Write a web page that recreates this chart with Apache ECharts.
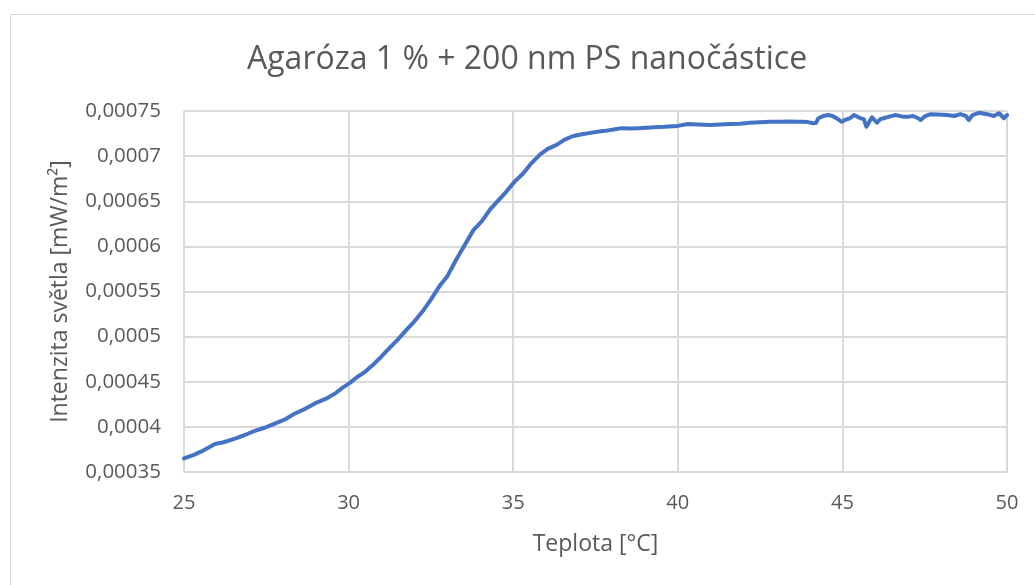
<!DOCTYPE html>
<html>
<head>
<meta charset="utf-8">
<script src="https://cdn.jsdelivr.net/npm/echarts@6/dist/echarts.min.js"></script>
<style>
  html, body { margin: 0; padding: 0; background: #ffffff; }
  #chart { width: 1035px; height: 585px; }
</style>
</head>
<body>
<div id="chart"></div>
<script>
// Measured light intensity vs. temperature (agarose 1 % + 200 nm PS nanoparticles)
var temperature = [
  25.0, 25.3, 25.6, 25.94, 26.2, 26.55, 26.85, 27.15, 27.45, 27.76,
  28.05, 28.37, 28.68, 28.98, 29.3, 29.59, 29.8, 30.05, 30.25, 30.5,
  30.75, 31.0, 31.26, 31.5, 31.77, 32.0, 32.27, 32.5, 32.78, 33.0,
  33.28, 33.55, 33.79, 34.05, 34.3, 34.55, 34.8, 35.05, 35.31, 35.55,
  35.82, 36.05, 36.32, 36.55, 36.8, 37.05, 37.3, 37.55, 37.8, 38.05,
  38.3, 38.55, 38.8, 39.05, 39.3, 39.6, 40.0, 40.3, 40.6, 40.97,
  41.3, 41.58, 41.9, 42.19, 42.5, 42.8, 43.1, 43.4, 43.65, 43.81,
  43.95, 44.11, 44.2, 44.27, 44.45, 44.57, 44.7, 44.82, 44.98, 45.1,
  45.23, 45.35, 45.55, 45.65, 45.73, 45.8, 45.9, 46.05, 46.15, 46.25,
  46.4, 46.6, 46.8, 46.97, 47.15, 47.3, 47.38, 47.5, 47.68, 47.9,
  48.18, 48.4, 48.58, 48.75, 48.84, 48.95, 49.15, 49.4, 49.6, 49.76,
  49.91, 50.0
];
var intensity = [
  0.000365, 0.000369, 0.000374, 0.000381, 0.000383, 0.000387, 0.000391, 0.0003956, 0.000399, 0.0004037,
  0.000408, 0.0004148, 0.000420, 0.000426, 0.000431, 0.000437, 0.000443, 0.000449, 0.000455, 0.000461,
  0.000469, 0.000478, 0.000488, 0.000497, 0.000508, 0.000517, 0.000529, 0.000541, 0.000557, 0.000567,
  0.000586, 0.000603, 0.000618, 0.000628, 0.000641, 0.000651, 0.000661, 0.000672, 0.000681, 0.000692,
  0.000702, 0.000708, 0.0007125, 0.000718, 0.000722, 0.000724, 0.0007255, 0.000727, 0.000728, 0.0007295,
  0.000731, 0.0007305, 0.000731, 0.0007315, 0.000732, 0.0007325, 0.0007335, 0.0007355, 0.000735, 0.0007345,
  0.000735, 0.0007355, 0.000736, 0.000737, 0.0007375, 0.000738, 0.0007382, 0.0007385, 0.0007382, 0.000738,
  0.0007377, 0.0007365, 0.0007368, 0.000742, 0.0007448, 0.0007455, 0.0007445, 0.000742, 0.000738, 0.0007405,
  0.000742, 0.0007455, 0.000742, 0.000741, 0.0007325, 0.000737, 0.000743, 0.000737, 0.000741, 0.000742,
  0.0007435, 0.0007455, 0.000744, 0.0007435, 0.0007445, 0.000742, 0.000740, 0.000744, 0.0007465, 0.000746,
  0.0007455, 0.0007445, 0.0007465, 0.0007445, 0.000740, 0.0007455, 0.000748, 0.0007465, 0.0007445, 0.0007475,
  0.000742, 0.0007455
];

var chartTitle = 'Agaróza 1 % + 200 nm PS nanočástice';
var xAxisName = 'Teplota [°C]';
var yAxisName = 'Intenzita světla [mW/m²]';

var points = temperature.map(function (t, i) { return [t, intensity[i]]; });

var textColor = '#595959';
var gridColor = '#d9d9d9';
var fontFamily = '"Open Sans", Lato, sans-serif';

function decimalComma(v) {
  var s = v.toFixed(5).replace(/0+$/, '').replace(/\.$/, '');
  return s.replace('.', ',');
}

var chart = echarts.init(document.getElementById('chart'), null, { renderer: 'canvas' });
chart.setOption({
  backgroundColor: '#ffffff',
  animation: false,
  graphic: [{
    type: 'rect',
    left: 8, top: 12,
    shape: { width: 1040, height: 600 },
    style: { fill: 'none', stroke: '#d9d9d9', lineWidth: 1 },
    silent: true
  }],
  title: {
    text: chartTitle,
    left: 247,
    top: 44,
    padding: 0,
    textStyle: { color: textColor, fontSize: 32, fontWeight: 'normal', fontFamily: fontFamily }
  },
  grid: { left: 184, right: 28, top: 111, bottom: 113, containLabel: false },
  xAxis: {
    type: 'value',
    min: 25, max: 50, interval: 5,
    name: xAxisName,
    nameLocation: 'middle',
    nameGap: 61,
    nameTextStyle: { color: textColor, fontSize: 23, fontFamily: fontFamily },
    axisLine: { show: true, lineStyle: { color: gridColor, width: 2 } },
    axisTick: { show: false },
    axisLabel: { color: textColor, fontSize: 20, fontFamily: fontFamily, margin: 21 },
    splitLine: { show: true, lineStyle: { color: gridColor, width: 2 } }
  },
  yAxis: {
    type: 'value',
    min: 0.00035, max: 0.00075, interval: 0.00005,
    name: yAxisName,
    nameLocation: 'middle',
    nameGap: 112,
    nameTextStyle: { color: textColor, fontSize: 23, fontFamily: fontFamily },
    axisLine: { show: false },
    axisTick: { show: false },
    axisLabel: { color: textColor, fontSize: 20.5, fontFamily: fontFamily, margin: 23, formatter: decimalComma },
    splitLine: { show: true, lineStyle: { color: gridColor, width: 2 } }
  },
  series: [{
    type: 'line',
    data: points,
    showSymbol: false,
    smooth: false,
    lineStyle: { color: '#4472C4', width: 4, cap: 'round', join: 'round' },
    itemStyle: { color: '#4472C4' }
  }]
});
</script>
</body>
</html>
